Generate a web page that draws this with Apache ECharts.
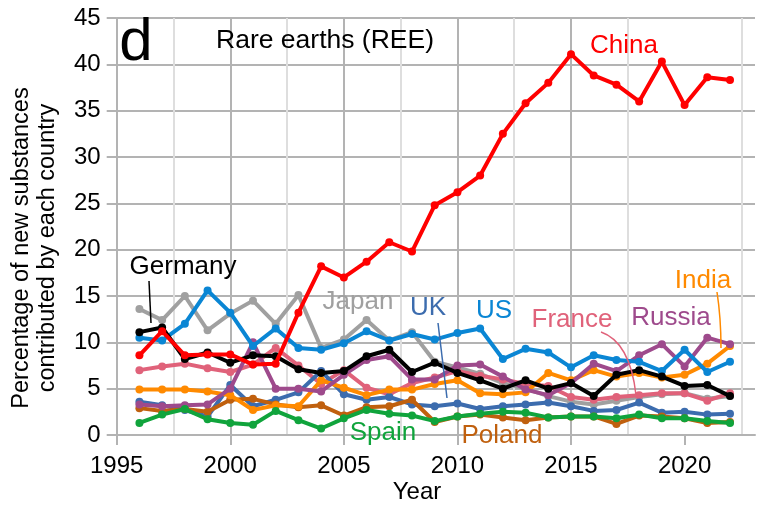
<!DOCTYPE html>
<html>
<head>
<meta charset="utf-8">
<script src="https://cdn.jsdelivr.net/npm/echarts@6/dist/echarts.min.js"></script>
<style>
  html, body { margin: 0; padding: 0; background: #fff; }
  #main { width: 758px; height: 508px; }
</style>
</head>
<body>
<div id="main"></div>
<script>
// years and values
var years = [1996, 1997, 1998, 1999, 2000, 2001, 2002, 2003, 2004, 2005, 2006, 2007, 2008, 2009,
             2010, 2011, 2012, 2013, 2014, 2015, 2016, 2017, 2018, 2019, 2020, 2021, 2022];

var china   = [8.6, 11.2, 8.6, 8.7, 8.7, 7.6, 7.7, 13.2, 18.2, 17.0, 18.7, 20.8, 19.8, 24.8,
               26.2, 28.0, 32.5, 35.8, 38.0, 41.1, 38.8, 37.8, 36.0, 40.3, 35.6, 38.6, 38.3];
var us      = [10.5, 10.2, 12.0, 15.6, 13.2, 9.6, 11.5, 9.4, 9.2, 9.9, 11.2, 10.2, 10.9, 10.3,
               11.0, 11.5, 8.2, 9.3, 8.9, 7.3, 8.6, 8.1, 7.9, 6.9, 9.2, 6.8, 7.9];
var japan   = [13.6, 12.4, 15.0, 11.3, 13.1, 14.5, 12.0, 15.1, 9.4, 10.3, 12.4, 10.2, 11.1, 7.9,
               7.3, 6.6, 5.6, 5.0, 4.2, 3.6, 3.3, 3.7, 4.1, 4.4, 4.5, 3.9, 4.2];
var germany = [11.1, 11.6, 8.2, 8.9, 7.8, 8.6, 8.5, 7.1, 6.7, 6.9, 8.5, 9.2, 6.8, 7.8,
               6.7, 5.9, 5.0, 5.9, 5.0, 5.6, 4.2, 6.5, 7.0, 6.3, 5.3, 5.4, 4.2];
var uk      = [3.6, 3.2, 2.7, 2.0, 5.4, 3.1, 3.8, 4.6, 6.9, 4.4, 3.8, 4.1, 3.3, 3.1,
               3.4, 2.8, 3.1, 3.3, 3.5, 3.1, 2.6, 2.7, 3.5, 2.4, 2.5, 2.2, 2.3];
var france  = [7.0, 7.4, 7.7, 7.2, 6.8, 7.6, 9.4, 7.5, 5.5, 7.0, 5.1, 4.4, 5.6, 6.2,
               6.9, 6.4, 6.0, 5.5, 5.3, 4.1, 3.8, 4.1, 4.3, 4.5, 4.5, 3.7, 4.5];
var russia  = [3.3, 3.1, 3.2, 3.3, 5.0, 10.0, 5.0, 5.0, 4.7, 6.5, 8.1, 8.5, 6.0, 6.0,
               7.5, 7.6, 6.3, 4.9, 4.3, 5.6, 7.7, 6.9, 8.6, 9.8, 7.4, 10.5, 9.8];
var india   = [4.9, 4.9, 4.9, 4.7, 4.3, 2.7, 3.2, 3.1, 5.9, 5.1, 4.3, 4.9, 4.9, 5.5,
               5.9, 4.5, 4.4, 4.6, 6.7, 5.9, 7.0, 6.3, 6.7, 6.2, 6.5, 7.7, 9.6];
var poland  = [2.9, 2.6, 2.8, 2.5, 3.8, 3.9, 3.3, 3.0, 3.2, 2.1, 3.0, 3.1, 3.8, 1.4,
               2.0, 2.2, 1.9, 1.6, 1.9, 2.0, 2.0, 1.2, 2.1, 2.0, 1.8, 1.3, 1.4];
var spain   = [1.3, 2.2, 2.8, 1.7, 1.3, 1.1, 2.6, 1.6, 0.7, 1.8, 2.7, 2.3, 2.1, 1.5,
               2.0, 2.3, 2.5, 2.4, 1.9, 2.0, 2.0, 1.8, 2.2, 1.8, 1.8, 1.5, 1.3];

var xTicks = [1995, 2000, 2005, 2010, 2015, 2020];

var FONT = '"Liberation Sans", Arial, sans-serif';

// bottom to top drawing order
var countries = [
  { name: 'Japan',   data: japan,   color: '#a0a0a0' },
  { name: 'France',  data: france,  color: '#e0627a' },
  { name: 'UK',      data: uk,      color: '#3c6cae' },
  { name: 'Poland',  data: poland,  color: '#c0600e' },
  { name: 'India',   data: india,   color: '#ff8a00' },
  { name: 'Russia',  data: russia,  color: '#9e4a8c' },
  { name: 'US',      data: us,      color: '#0a86d4' },
  { name: 'Germany', data: germany, color: '#000000' },
  { name: 'Spain',   data: spain,   color: '#10a43c' },
  { name: 'China',   data: china,   color: '#ff0000' }
];

function pairs(vals) {
  var out = [];
  for (var i = 0; i < years.length; i++) out.push([years[i], vals[i]]);
  return out;
}

var series = countries.map(function (c, i) {
  return {
    name: c.name,
    type: 'line',
    data: pairs(c.data),
    symbol: 'circle',
    symbolSize: 8,
    z: 2 + i,
    lineStyle: { width: 4, color: c.color },
    itemStyle: { color: c.color }
  };
});

function label(txt, x, y, color, size) {
  return {
    type: 'text', x: x, y: y, z: 100,
    style: { text: txt, fill: color, font: (size || 26) + 'px ' + FONT, align: 'center', verticalAlign: 'middle' }
  };
}

var myChart = echarts.init(document.getElementById('main'));
var option = {
  animation: false,
  backgroundColor: '#fff',
  grid: { left: 116.7, top: 18, right: 3, bottom: 73 },
  xAxis: {
    type: 'value',
    min: 1995,
    max: 2023.1,
    interval: 5,
    axisLine: { show: true, lineStyle: { color: '#b3b3b3', width: 2 } },
    axisTick: { show: true, customValues: xTicks, length: 10, lineStyle: { color: '#b3b3b3', width: 2 } },
    axisLabel: { customValues: xTicks, margin: 19, color: '#000', fontSize: 24, fontFamily: FONT,
                 formatter: function (v) { return String(v); } },
    splitLine: { show: true, showMaxLine: false, lineStyle: { color: '#b3b3b3', width: 2 } },
    minorTick: { show: false, splitNumber: 2 },
    minorSplitLine: { show: true, lineStyle: { color: '#dedede', width: 2 } }
  },
  yAxis: {
    type: 'value',
    min: 0,
    max: 45,
    interval: 5,
    axisLine: { show: true, lineStyle: { color: '#b3b3b3', width: 2 } },
    axisTick: { show: true, length: 10, lineStyle: { color: '#b3b3b3', width: 2 } },
    axisLabel: { margin: 16, color: '#000', fontSize: 24, fontFamily: FONT },
    splitLine: { show: true, lineStyle: { color: '#b3b3b3', width: 2 } }
  },
  series: series,
  graphic: [
    label('d', 136, 43, '#000', 60),
    label('Rare earths (REE)', 325, 41, '#000', 26.5),
    label('China', 624, 46, '#ff0000'),
    label('Germany', 183, 267, '#000'),
    label('Japan', 358, 302, '#a0a0a0'),
    label('UK', 428, 308, '#3c6cae'),
    label('US', 494, 311, '#0a86d4'),
    label('France', 572, 320, '#e0627a'),
    label('Russia', 671, 318, '#9e4a8c'),
    label('India', 703, 281, '#ff8a00'),
    label('Spain', 383, 433, '#10a43c'),
    label('Poland', 502, 436, '#c0600e'),
    label('Year', 417, 492, '#000', 24),
    {
      type: 'text', x: 22, y: 248, rotation: Math.PI / 2,
      style: { text: 'Percentage of new substances', fill: '#000', font: '23.5px ' + FONT, align: 'center', verticalAlign: 'middle' }
    },
    {
      type: 'text', x: 48, y: 248, rotation: Math.PI / 2,
      style: { text: 'contributed by each country', fill: '#000', font: '23.5px ' + FONT, align: 'center', verticalAlign: 'middle' }
    },
    // leader lines
    { type: 'line', z: 100, shape: { x1: 149, y1: 281, x2: 151, y2: 323 }, style: { stroke: '#000', lineWidth: 1.5 } },
    { type: 'line', z: 100, shape: { x1: 438, y1: 323, x2: 447, y2: 398 }, style: { stroke: '#3c6cae', lineWidth: 1.5 } },
    { type: 'bezierCurve', z: 100, shape: { x1: 601, y1: 332, cpx1: 630, cpy1: 342, x2: 636, y2: 395 },
      style: { stroke: '#e0627a', lineWidth: 1.5, fill: null } },
    { type: 'bezierCurve', z: 100, shape: { x1: 717, y1: 292, cpx1: 721, cpy1: 318, x2: 721, y2: 348 },
      style: { stroke: '#ff8a00', lineWidth: 1.5, fill: null } }
  ]
};
myChart.setOption(option);
</script>
</body>
</html>
